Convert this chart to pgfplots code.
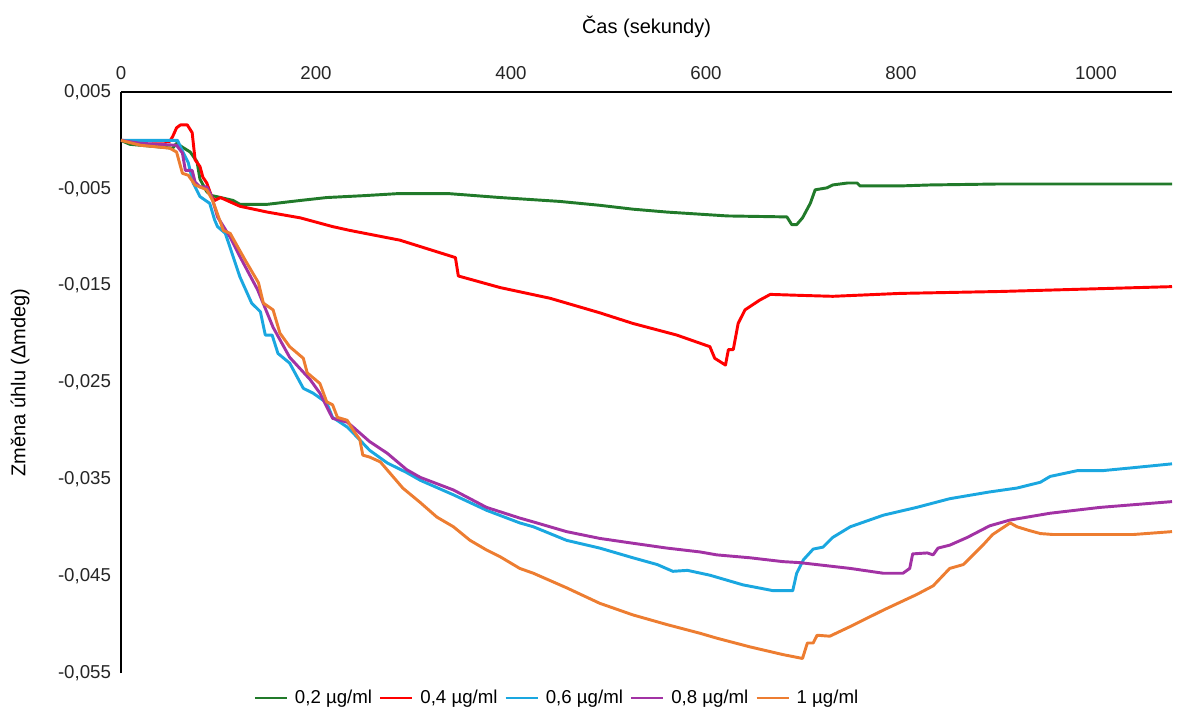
\documentclass[border=0pt]{standalone}
\usepackage{fontspec}
\setmainfont{Liberation Sans}
\usepackage{pgfplots}
\usepackage{pgfplotstable}
\pgfplotsset{compat=1.18}
\definecolor{cgreen}{HTML}{217A2A}
\definecolor{cred}{HTML}{FF0000}
\definecolor{ccyan}{HTML}{1AA7E0}
\definecolor{cpurple}{HTML}{A232A4}
\definecolor{corange}{HTML}{ED7D31}
\pgfplotstableread{
x y
0 0
9 -0.0004
53 -0.0008
57 -0.0003
63 -0.0007
71 -0.0012
78 -0.0022
81 -0.0040
88 -0.0053
93 -0.0057
98 -0.0058
115 -0.0062
122 -0.0066
150 -0.0066
184 -0.0062
211 -0.0059
250 -0.0057
283 -0.0055
337 -0.0055
389 -0.0059
450 -0.0063
491 -0.0067
525 -0.0071
560 -0.0074
622 -0.0078
683 -0.0079
688 -0.0087
693 -0.0087
699 -0.0080
707 -0.0065
712 -0.0051
724 -0.0049
730 -0.0046
745 -0.0044
755 -0.0044
758 -0.0047
799 -0.0047
830 -0.0046
900 -0.0045
1078 -0.0045
}\tgreen
\pgfplotstableread{
x y
0 0
50 -0.0001
53 0.0004
57 0.0013
61 0.0016
68 0.0016
73 0.0008
76 -0.0020
81 -0.0027
84 -0.0038
88 -0.0044
93 -0.0058
96 -0.0062
102 -0.0059
122 -0.0068
150 -0.0074
184 -0.0080
217 -0.0089
235 -0.0093
286 -0.0103
343 -0.0121
346 -0.0140
389 -0.0152
440 -0.0163
491 -0.0178
525 -0.0189
570 -0.0201
604 -0.0213
609 -0.0225
620 -0.0232
623 -0.0216
628 -0.0216
633 -0.0189
640 -0.0175
655 -0.0165
666 -0.0159
696 -0.0160
730 -0.0161
799 -0.0158
902 -0.0156
1078 -0.0151
}\tred
\pgfplotstableread{
x y
0 0
58 0
64 -0.0013
69 -0.0023
74 -0.0044
81 -0.0058
91 -0.0065
96 -0.0082
99 -0.0089
107 -0.0096
115 -0.0120
122 -0.0141
134 -0.0168
143 -0.0177
148 -0.0201
155 -0.0201
161 -0.0220
173 -0.0230
187 -0.0256
197 -0.0261
211 -0.0271
217 -0.0286
232 -0.0296
238 -0.0302
255 -0.0320
273 -0.0333
293 -0.0343
307 -0.0351
341 -0.0366
375 -0.0382
409 -0.0395
423 -0.0399
457 -0.0413
491 -0.0421
525 -0.0431
550 -0.0438
566 -0.0445
581 -0.0444
604 -0.0449
638 -0.0459
669 -0.0465
689 -0.0465
693 -0.0447
700 -0.0433
710 -0.0422
720 -0.0420
730 -0.0410
748 -0.0399
782 -0.0387
816 -0.0379
850 -0.0370
891 -0.0363
919 -0.0359
943 -0.0353
953 -0.0347
981 -0.0341
1007 -0.0341
1038 -0.0338
1078 -0.0334
}\tcyan
\pgfplotstableread{
x y
0 0
20 -0.0003
57 -0.0005
63 -0.0013
66 -0.0031
73 -0.0031
76 -0.0043
81 -0.0048
88 -0.0048
93 -0.0058
99 -0.0079
112 -0.0100
122 -0.0120
140 -0.0154
156 -0.0193
173 -0.0224
194 -0.0247
204 -0.0261
217 -0.0287
232 -0.0291
238 -0.0296
255 -0.0311
273 -0.0323
293 -0.0340
307 -0.0348
341 -0.0361
375 -0.0379
409 -0.0390
423 -0.0394
457 -0.0404
491 -0.0411
525 -0.0416
560 -0.0421
594 -0.0425
611 -0.0428
645 -0.0431
679 -0.0435
696 -0.0436
748 -0.0442
782 -0.0447
802 -0.0447
809 -0.0442
812 -0.0427
827 -0.0426
833 -0.0428
838 -0.0421
850 -0.0418
868 -0.0410
891 -0.0398
912 -0.0392
953 -0.0385
1004 -0.0379
1078 -0.0373
}\tpurple
\pgfplotstableread{
x y
0 0
20 -0.0005
50 -0.0008
57 -0.0012
63 -0.0034
69 -0.0036
76 -0.0046
88 -0.0051
94 -0.0062
105 -0.0093
112 -0.0096
127 -0.0123
141 -0.0147
146 -0.0168
156 -0.0175
163 -0.0199
173 -0.0213
187 -0.0225
191 -0.0240
204 -0.0251
211 -0.0270
217 -0.0273
222 -0.0286
232 -0.0289
238 -0.0299
245 -0.0309
248 -0.0325
255 -0.0327
266 -0.0332
289 -0.0359
307 -0.0374
324 -0.0389
341 -0.0399
358 -0.0413
375 -0.0423
389 -0.0430
409 -0.0442
423 -0.0447
457 -0.0462
491 -0.0478
525 -0.0490
560 -0.0500
594 -0.0509
611 -0.0514
645 -0.0523
679 -0.0531
699 -0.0535
704 -0.0519
710 -0.0519
714 -0.0511
727 -0.0512
748 -0.0502
782 -0.0485
816 -0.0469
833 -0.0460
850 -0.0442
864 -0.0438
884 -0.0418
894 -0.0407
912 -0.0395
919 -0.0399
932 -0.0403
943 -0.0406
956 -0.0407
1038 -0.0407
1078 -0.0404
}\torange
\begin{document}
\begin{tikzpicture}
\begin{axis}[
  scale only axis,
  width=788.25pt, height=435.75pt,
  xmin=0, xmax=1078, ymin=-0.055, ymax=0.005,
  axis x line*=top, axis y line*=left,
  axis line style={black, line width=0.8pt},
  major tick length=0pt,
  scaled x ticks=false, scaled y ticks=false,
  xtick={0,200,400,600,800,1000},
  xticklabels={0,200,400,600,800,1000},
  ytick={0.005,-0.005,-0.015,-0.025,-0.035,-0.045,-0.055},
  yticklabels={{0,005},{-0,005},{-0,015},{-0,025},{-0,035},{-0,045},{-0,055}},
  tick label style={font=\fontsize{14}{16}\selectfont, text=black!85},
  xticklabel style={yshift=6pt},
  yticklabel style={xshift=-4pt},
  xlabel={Čas (sekundy)},
  ylabel={Změna úhlu (Δmdeg)},
  label style={font=\fontsize{15}{18}\selectfont},
  xlabel style={at={(axis description cs:0.5,1.1119)}, anchor=center},
  ylabel style={at={(axis description cs:-0.0961,0.5)}, anchor=center, rotate=0},
  legend columns=5,
  legend style={draw=none, fill=none, at={(0.415,-0.043)}, anchor=center,
    font=\fontsize{14}{16}\selectfont, column sep=3pt},
  legend image code/.code={\draw[#1, line width=2.2pt] (0pt,0pt) -- (24pt,0pt);},
  every axis plot/.append style={line width=2.2pt, line join=round},
]
\addplot[cgreen, no markers] table[x=x,y=y] {\tgreen};
\addlegendentry{0,2 µg/ml}
\addplot[cred, no markers] table[x=x,y=y] {\tred};
\addlegendentry{0,4 µg/ml}
\addplot[ccyan, no markers] table[x=x,y=y] {\tcyan};
\addlegendentry{0,6 µg/ml}
\addplot[cpurple, no markers] table[x=x,y=y] {\tpurple};
\addlegendentry{0,8 µg/ml}
\addplot[corange, no markers] table[x=x,y=y] {\torange};
\addlegendentry{1 µg/ml}
\coordinate (bl) at (rel axis cs:0,0);
\coordinate (tr) at (rel axis cs:1,1);
\end{axis}
\pgfresetboundingbox
\path ([shift={(-90.75pt,-27.75pt)}]bl) rectangle ([shift={(9pt,69pt)}]tr);
\end{tikzpicture}
\end{document}
